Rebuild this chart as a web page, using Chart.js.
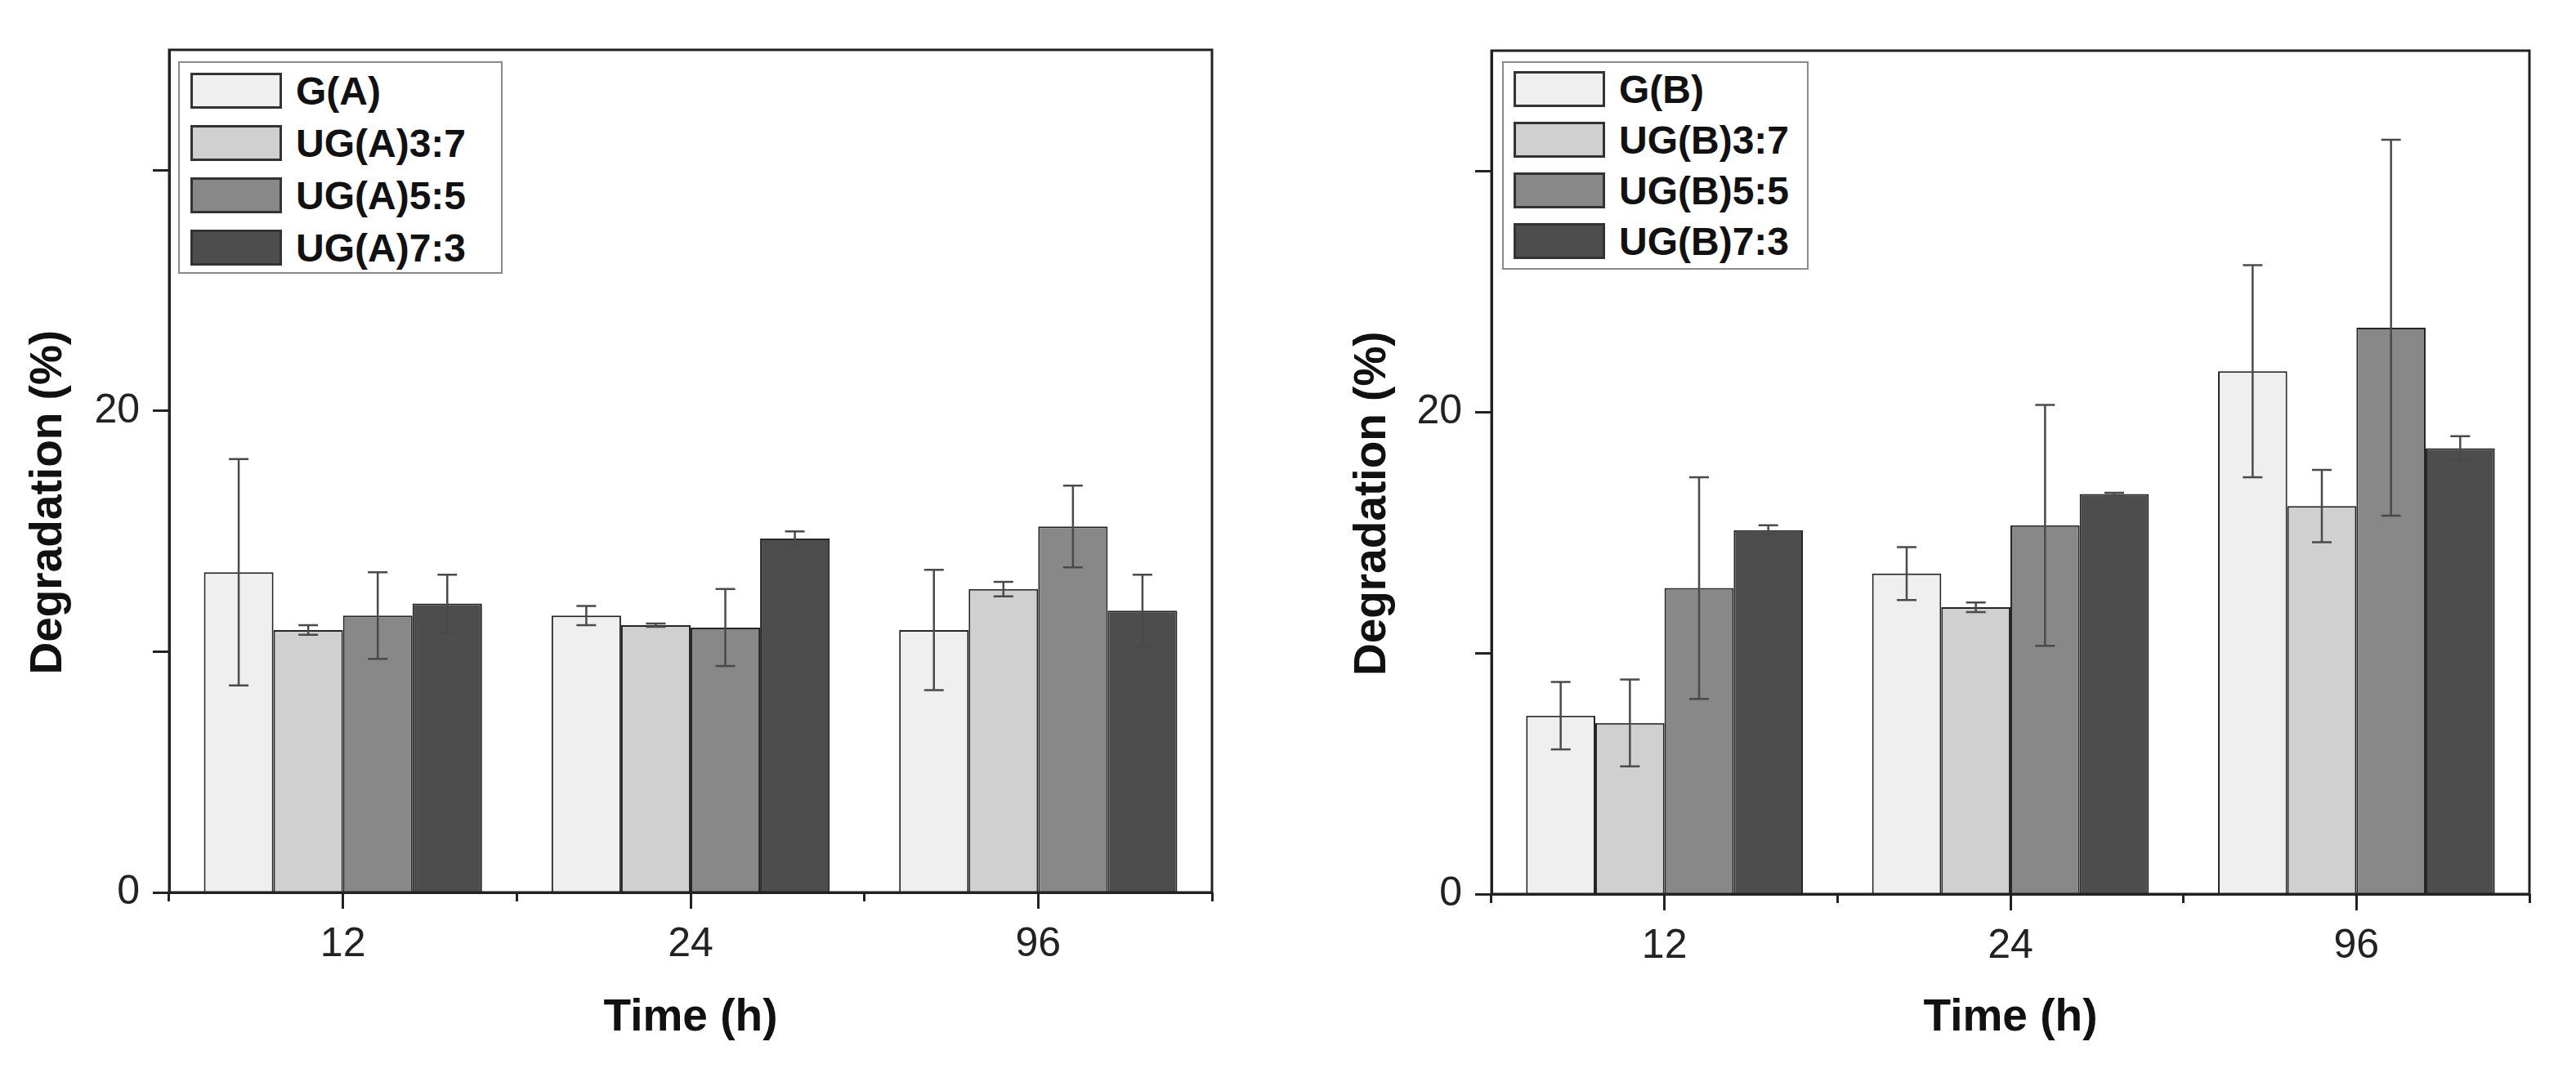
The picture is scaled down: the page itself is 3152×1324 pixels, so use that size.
<!DOCTYPE html>
<html>
<head>
<meta charset="utf-8">
<script src="https://cdn.jsdelivr.net/npm/chart.js@4.4.0/dist/chart.umd.min.js"></script>
<style>
  body { margin:0; background:#fff; width:3152px; height:1324px; position:relative; overflow:hidden; font-family:"Liberation Sans", Arial, sans-serif; }
  canvas { position:absolute; top:0; }
  #c1 { left:0; }
  #c2 { left:1576px; }
  .legend { position:absolute; border:2px solid #8a8a8a; background:#fff; box-sizing:border-box; }
  .legend .row { position:absolute; display:flex; align-items:center; height:44px; }
  .legend .sw { width:112px; height:44px; box-sizing:border-box; border:3px solid #333; }
  .legend .lb { margin-left:17px; font-weight:bold; font-size:48px; color:#111; white-space:nowrap; }
</style>
</head>
<body>
<canvas id="c1" width="1576" height="1324"></canvas>
<canvas id="c2" width="1576" height="1324"></canvas>
<div class="legend" id="leg1" style="left:218px;top:75px;width:397px;height:260px"></div>
<div class="legend" id="leg2" style="left:1838px;top:75px;width:375px;height:255px"></div>
<script>
// data
const times = ['12', '24', '96'];
const yTickLabels = [0, 20];

const namesA = ['G(A)', 'UG(A)3:7', 'UG(A)5:5', 'UG(A)7:3'];
const gA     = [13.3, 11.5, 10.9];
const gAErr  = [4.7, 0.4, 2.5];
const ug37A    = [10.9, 11.1, 12.6];
const ug37AErr = [0.2, 0.07, 0.3];
const ug55A    = [11.5, 11.0, 15.2];
const ug55AErr = [1.8, 1.6, 1.7];
const ug73A    = [12.0, 14.7, 11.7];
const ug73AErr = [1.2, 0.3, 1.5];

const namesB = ['G(B)', 'UG(B)3:7', 'UG(B)5:5', 'UG(B)7:3'];
const gB     = [7.4, 13.3, 21.7];
const gBErr  = [1.4, 1.1, 4.4];
const ug37B    = [7.1, 11.9, 16.1];
const ug37BErr = [1.8, 0.2, 1.5];
const ug55B    = [12.7, 15.3, 23.5];
const ug55BErr = [4.6, 5.0, 7.8];
const ug73B    = [15.1, 16.6, 18.5];
const ug73BErr = [0.2, 0.05, 0.5];

const fills = ['#efefef', '#d0d0d0', '#888888', '#4d4d4d'];
const FONT = '"Liberation Sans", Arial, sans-serif';

// error bars drawn from the y scale
const errorBars = {
  id: 'errorBars',
  afterDatasetsDraw(chart) {
    const ctx = chart.ctx, y = chart.scales.y;
    chart.data.datasets.forEach((ds, i) => {
      const meta = chart.getDatasetMeta(i);
      meta.data.forEach((bar, j) => {
        const v = ds.data[j], e = ds.errors[j];
        const t = y.getPixelForValue(v + e), b = y.getPixelForValue(v - e);
        ctx.save();
        ctx.strokeStyle = '#4a4a4a';
        ctx.lineWidth = 2.5;
        ctx.beginPath();
        ctx.moveTo(bar.x, t); ctx.lineTo(bar.x, b);
        ctx.moveTo(bar.x - 12, t); ctx.lineTo(bar.x + 12, t);
        ctx.moveTo(bar.x - 12, b); ctx.lineTo(bar.x + 12, b);
        ctx.stroke();
        ctx.restore();
      });
    });
  }
};

// box round the plot
const frame = {
  id: 'frame',
  afterDraw(chart) {
    const {ctx, chartArea: a} = chart;
    ctx.save();
    ctx.strokeStyle = '#222';
    ctx.lineWidth = 3;
    ctx.strokeRect(a.left, a.top, a.right - a.left, a.bottom - a.top);
    ctx.restore();
  }
};

function makeChart(id, names, series, errs, cfg) {
  const datasets = names.map((n, i) => ({
    label: n,
    data: series[i],
    errors: errs[i],
    backgroundColor: fills[i],
    borderColor: '#262626',
    borderWidth: 2,
    barPercentage: 1,
    categoryPercentage: 0.8
  }));
  return new Chart(document.getElementById(id), {
    type: 'bar',
    data: { labels: times, datasets: datasets },
    options: {
      responsive: false,
      animation: false,
      devicePixelRatio: 1,
      layout: { padding: { left: 0, top: cfg.top, right: cfg.right, bottom: 0 } },
      plugins: { legend: { display: false }, tooltip: { enabled: false } },
      scales: {
        x: {
          weight: 1,
          afterFit: s => { s.height = cfg.xH; },
          border: { display: true, color: '#222', width: 3 },
          grid: { offset: false, drawOnChartArea: false, tickLength: 20, tickWidth: 3, tickColor: '#222' },
          ticks: { padding: 14, color: '#222', font: { family: FONT, size: 50 } },
          title: { display: true, text: 'Time (h)', color: '#111',
                   font: { family: FONT, size: 55, weight: 'bold' }, padding: { top: 0, bottom: 45 } }
        },
        x2: {
          type: 'category',
          labels: times,
          position: 'bottom',
          weight: 0,
          offset: true,
          afterFit: s => { s.height = 0; },
          border: { display: false },
          grid: { offset: true, drawOnChartArea: false, tickLength: 11, tickWidth: 3, tickColor: '#222' },
          ticks: { display: false }
        },
        y: {
          min: 0,
          max: 35,
          afterFit: s => { s.width = cfg.axisW; },
          border: { display: true, color: '#222', width: 3 },
          grid: { drawOnChartArea: false, tickLength: 20, tickWidth: 3, tickColor: '#222' },
          ticks: {
            stepSize: 10, includeBounds: false, padding: 16, color: '#222',
            font: { family: FONT, size: 50 },
            callback: v => yTickLabels.includes(v) ? v : ''
          },
          title: { display: true, text: 'Degradation (%)\u00A0\u00A0\u00A0\u00A0\u00A0', color: '#111',
                   font: { family: FONT, size: 55, weight: 'bold' }, padding: { top: cfg.titlePad, bottom: 0 } }
        }
      }
    },
    plugins: [errorBars, frame]
  });
}

function makeLegend(id, names, gap, left, first) {
  const box = document.getElementById(id);
  names.forEach((n, i) => {
    const row = document.createElement('div');
    row.className = 'row';
    row.style.left = left + 'px';
    row.style.top = (first + i * gap) + 'px';
    const sw = document.createElement('div');
    sw.className = 'sw';
    sw.style.background = fills[i];
    const lb = document.createElement('span');
    lb.className = 'lb';
    lb.textContent = n;
    row.appendChild(sw);
    row.appendChild(lb);
    box.appendChild(row);
  });
}

makeChart('c1', namesA, [gA, ug37A, ug55A, ug73A], [gAErr, ug37AErr, ug55AErr, ug73AErr],
  { axisW: 207, top: 61, right: 93, xH: 232, titlePad: 27 });
makeChart('c2', namesB, [gB, ug37B, ug55B, ug73B], [gBErr, ug37BErr, ug55BErr, ug73BErr],
  { axisW: 249, top: 62, right: 57, xH: 230, titlePad: 71 });

makeLegend('leg1', namesA, 64, 13, 12);
makeLegend('leg2', namesB, 62, 12, 10);
</script>
</body>
</html>
